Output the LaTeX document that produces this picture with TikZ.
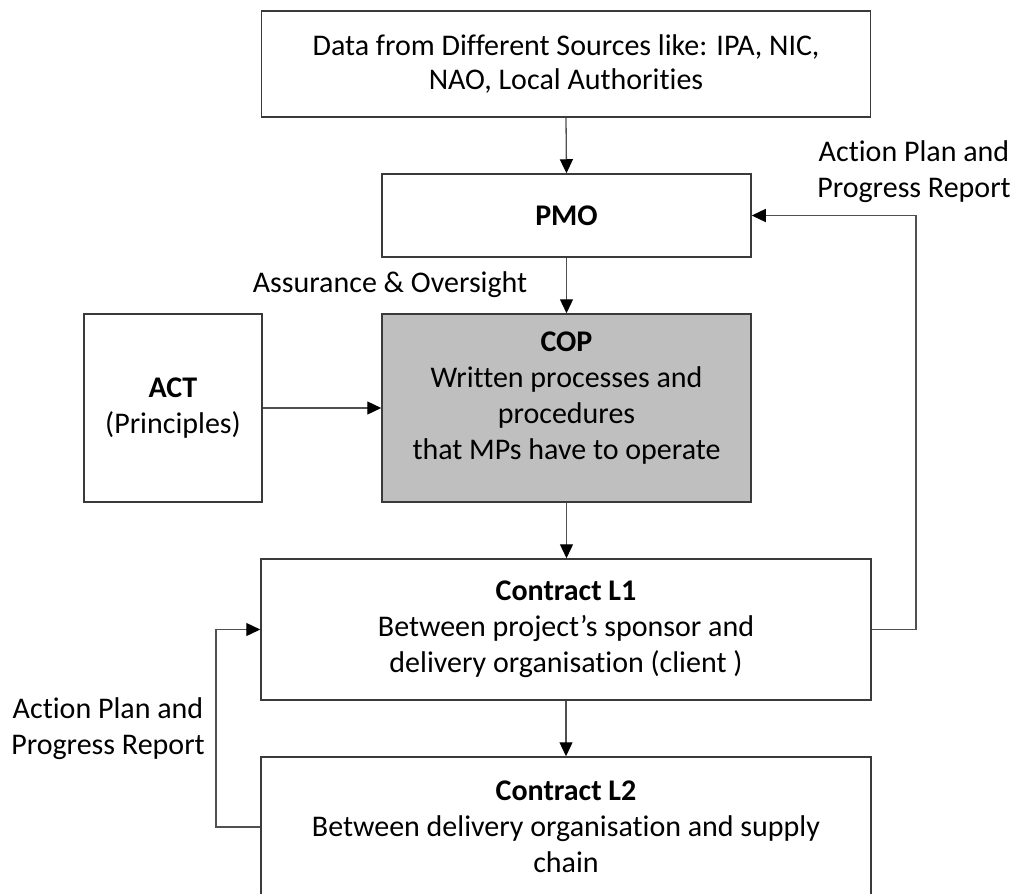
\documentclass[tikz,border=0pt]{standalone}
\usepackage{fontspec}
\setmainfont[Ligatures=NoCommon]{Carlito}
\usetikzlibrary{arrows.meta,calc}

\definecolor{edge}{HTML}{3A3A3A}
\definecolor{link}{HTML}{505050}
\definecolor{copfill}{HTML}{BFBFBF}

\tikzset{
  box/.style={draw=edge, line width=1.5pt, fill=white, inner sep=0pt,
              align=center, font=\fontsize{30}{36}\selectfont},
  txt/.style={inner sep=0pt, align=center, font=\fontsize{30}{36}\selectfont},
  flow/.style={draw=link, line width=1.3pt,
               -{Triangle[length=14pt,width=13pt,color=black]}},
}

\begin{document}
\begin{tikzpicture}[x=1pt,y=-1pt]
  \useasboundingbox (0,0) rectangle (1020,894);
  \clip (0,0) rectangle (1020,894);

  % boxes (centre, width, height in px)
  \node[box, minimum width=609pt, minimum height=106pt,
        font=\fontsize{30}{34}\selectfont] (src) at (566,64)
    {Data from Different Sources like: IPA, NIC,\\NAO, Local Authorities};
  \node[box, minimum width=369pt, minimum height=83pt] (pmo) at (566.5,215.5)
    {\textbf{PMO}};
  \node[box, fill=copfill, minimum width=369pt, minimum height=188pt] (cop) at (566.5,408) {};
  \node[txt] (coptext) at (566.5,398)
    {\textbf{COP}\\Written processes and\\procedures\\that MPs have to operate};
  \node[box, minimum width=178pt, minimum height=188pt] (act) at (173,408)
    {\textbf{ACT}\\(Principles)};
  \node[box, minimum width=610pt, minimum height=141pt] (l1) at (566,629.5)
    {\textbf{Contract L1}\\Between project’s sponsor and\\delivery organisation (client )};
  \node[box, minimum width=610pt, minimum height=140pt] (l2) at (566,827)
    {\textbf{Contract L2}\\Between delivery organisation and supply\\chain};

  % free labels
  \node[txt] (lblAO) at (390,285) {Assurance \& Oversight};
  \node[txt] (lblR) at (914,172) {Action Plan and\\Progress Report};
  \node[txt] (lblL) at (108,729) {Action Plan and\\Progress Report};

  % turning points of the feedback loops
  \coordinate (rTurn) at (916,629.5);
  \coordinate (lTurn) at (216,827);

  % main flow
  \draw[flow] (src.south) -- (pmo.north);
  \draw[flow] (pmo.south) -- (cop.north);
  \draw[flow] (act.east) -- (cop.west);
  \draw[flow] (cop.south) -- (cop.south |- l1.north);
  \draw[flow] (l1.south -| l2.north) -- (l2.north);

  % feedback loops
  \draw[flow] (l1.east) -- (rTurn) -- (rTurn |- pmo.east) -- (pmo.east);
  \draw[flow] (l2.west |- lTurn) -- (lTurn) -- (lTurn |- l1.west) -- (l1.west);
\end{tikzpicture}
\end{document}
